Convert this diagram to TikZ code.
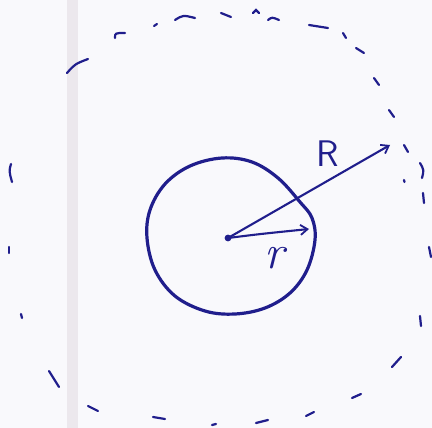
\documentclass[tikz,border=0pt]{standalone}
\usepackage{fontspec}
\usetikzlibrary{arrows.meta}
\definecolor{ink}{RGB}{32,30,140}
\definecolor{paper}{RGB}{249,249,252}
\definecolor{stripe}{RGB}{236,232,237}
\tikzset{
  dashmark/.style={draw=ink, line width=2.2pt, line cap=round},
  rim/.style={draw=ink, line width=3.2pt},
  radius arrow/.style={draw=ink, line width=2.1pt, -{Straight Barb[length=7pt,width=10pt,line width=1.8pt]}},
  lbl/.style={text=ink, inner sep=0pt}
}
\begin{document}
\begin{tikzpicture}[x=1pt,y=-1pt]
\fill[paper] (0,0) rectangle (432,428);
\useasboundingbox (0,0) rectangle (432,428);
\fill[stripe] (67,0) rectangle (78,428);
% inner circle (hand drawn)
\draw[rim] plot[smooth cycle, tension=0.6] coordinates {
 (315,240) (312,218) (300,202) (278,178) (252,162) (222,158) (190,166) (165,184)
 (150,210) (147,238) (155,270) (175,296) (205,311) (235,314) (265,308) (290,293) (307,270)};
% centre
\coordinate (O) at (228,238);
\fill[ink] (O) circle (3.4pt);
\coordinate (Rtip) at (390,145);
\coordinate (rtip) at (309,229);
\draw[radius arrow] (O) -- (Rtip);
\draw[radius arrow] (O) .. controls (260,234) .. (rtip);
\node[lbl, font=\sffamily\fontsize{37}{37}\selectfont] (Rl) at (328,154) {R};
\node[lbl, font=\itshape\fontsize{48}{48}\selectfont] (rl) at (274,258) {r};
% outer dashed circle (hand drawn dashes)
\draw[dashmark] (11,164) .. controls (9,171) .. (12,182);
\draw[dashmark] (9,247) -- (9,253);
\draw[dashmark] (21,314) -- (22,318);
\draw[dashmark] (49,371) -- (59,387);
\draw[dashmark] (88,406) -- (98,411);
\draw[dashmark] (153,417) -- (165,419);
\draw[dashmark] (212,425) -- (216,424);
\draw[dashmark] (256,423) -- (268,420);
\draw[dashmark] (306,416) -- (314,412);
\draw[dashmark] (352,398) -- (361,394);
\draw[dashmark] (392,367) -- (401,357);
\draw[dashmark] (420,316) -- (421,326);
\draw[dashmark] (429,247) -- (431,257);
\draw[dashmark] (423,193) -- (424,203);
\draw[dashmark] (420,163) .. controls (424,170) .. (422,178);
\draw[dashmark] (404,180) -- (404.5,182);
\draw[dashmark] (404,145) -- (408,152);
\draw[dashmark] (389,110) -- (394,117);
\draw[dashmark] (374,78) -- (379,85);
\draw[dashmark] (356,48) -- (364,53);
\draw[dashmark] (343,33) -- (346,38);
\draw[dashmark] (309,25) -- (328,28);
\draw[dashmark] (268,20) .. controls (272,17) .. (279,20);
\draw[dashmark] (253,13) -- (256,10) -- (259,13);
\draw[dashmark] (221,13) -- (231,17);
\draw[dashmark] (175,20) .. controls (183,15) .. (195,18);
\draw[dashmark] (154,26) -- (157,24);
\draw[dashmark] (115,38) .. controls (115,33) .. (125,33);
\draw[dashmark] (67,73) .. controls (75,64) .. (88,59);
\end{tikzpicture}
\end{document}
